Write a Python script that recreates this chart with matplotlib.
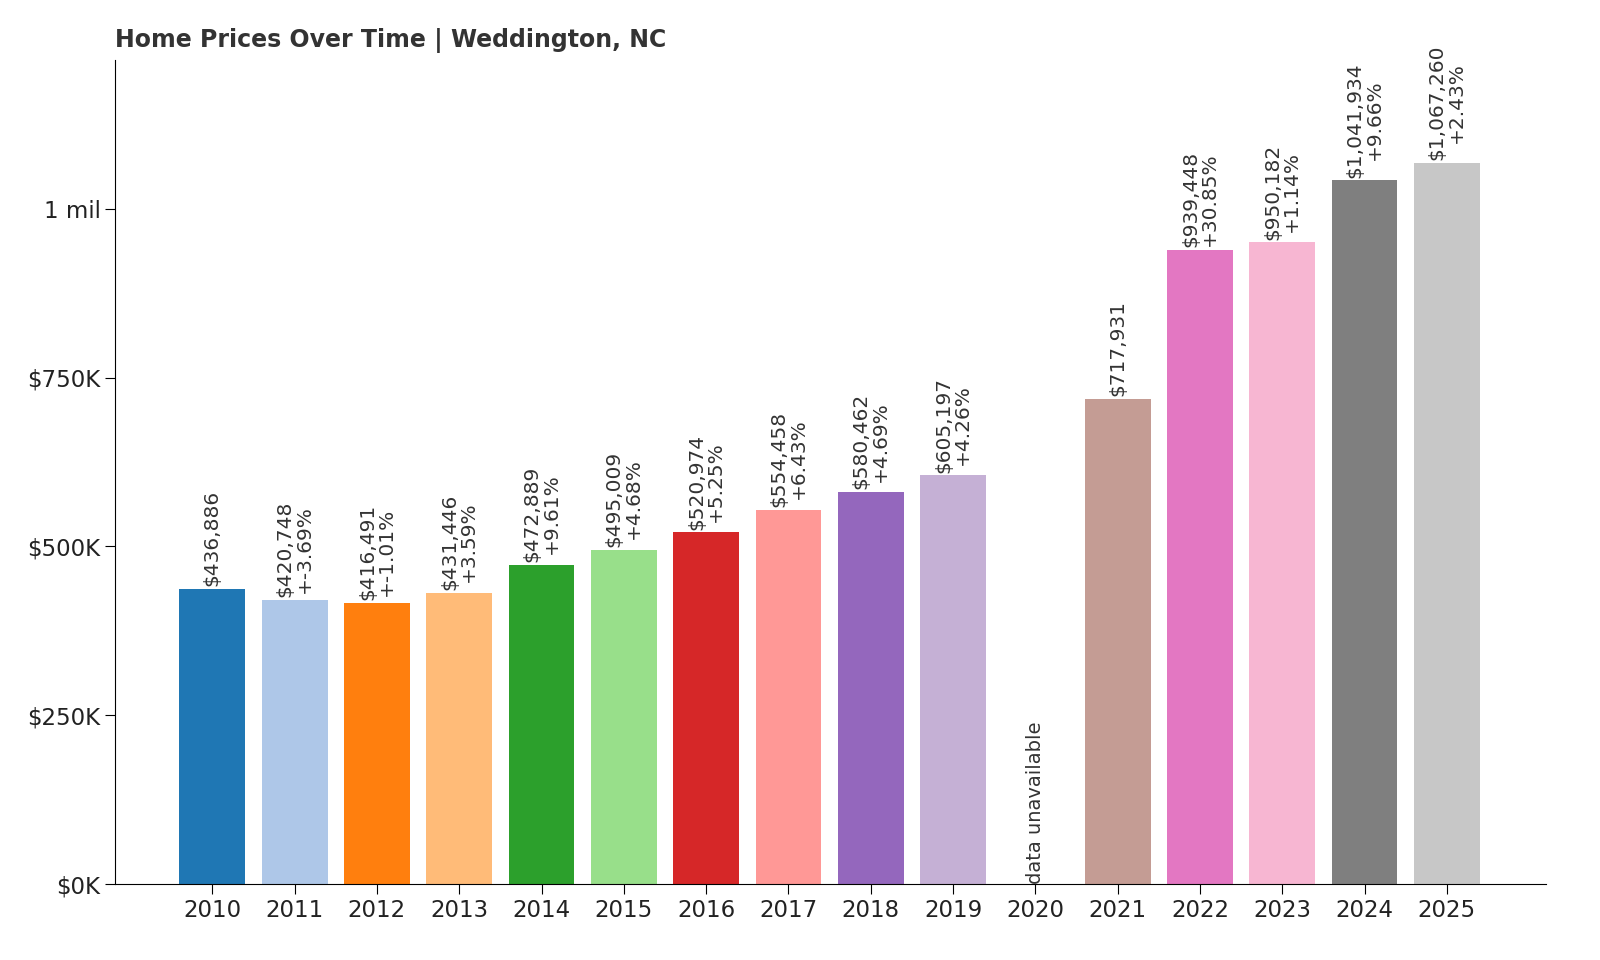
import matplotlib
matplotlib.use("Agg")
import matplotlib.pyplot as plt
import numpy as np

years = list(range(2010, 2026))
values = [436886, 420748, 416491, 431446, 472889, 495009, 520974, 554458, 580462, 605197,
          None, 717931, 939448, 950182, 1041934, 1067260]
changes = [None, -3.69, -1.01, 3.59, 9.61, 4.68, 5.25, 6.43, 4.69, 4.26,
           None, None, 30.85, 1.14, 9.66, 2.43]

cmap = plt.get_cmap("tab20")
fig = plt.figure(figsize=(16, 9.6), dpi=100)
ax = fig.add_axes([0.072, 0.079, 0.894, 0.8585])
for i, (y, v, c) in enumerate(zip(years, values, changes)):
    if v is None:
        ax.text(i, 0, "data unavailable", rotation=90, ha="center", va="bottom", fontsize=14, color="#333333")
        continue
    ax.bar(i, v, width=0.8, color=cmap(i % 20))
    lab = f"${v:,}" + (f"\n+{c:.2f}%" if c is not None else "")
    ax.text(i, v + 4000, lab, rotation=90, ha="center", va="bottom", fontsize=14.5, color="#333333",
            linespacing=1.0)
ax.set_xticks(range(len(years)))
ax.set_xticklabels([str(y) for y in years], fontsize=16.5, color="#222222")
ax.set_yticks([0, 250000, 500000, 750000, 1000000])
ax.set_yticklabels(["$0K", "$250K", "$500K", "$750K", "1 mil"], fontsize=16.5, color="#222222")
ax.set_xlim(-1.18, 16.2)
ax.set_ylim(0, 1.22e6)
for s in ["top", "right"]:
    ax.spines[s].set_visible(False)
ax.tick_params(length=7)
fig.text(0.072, 0.945, "Home Prices Over Time | Weddington, NC", fontsize=17, fontweight="bold",
         color="#333333", ha="left", va="bottom")
fig.savefig("out.png", dpi=100)
